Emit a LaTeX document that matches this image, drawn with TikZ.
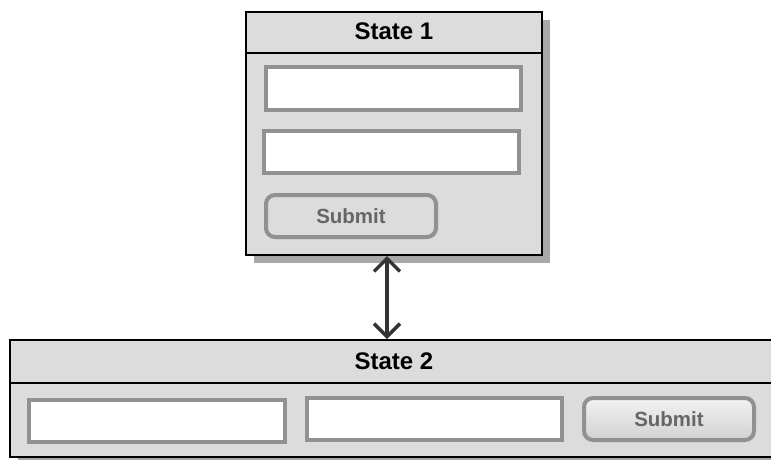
\documentclass[tikz,border=0pt]{standalone}
\usepackage{fontspec}
\setmainfont{Liberation Sans}
\usetikzlibrary{arrows.meta,shadows}
\definecolor{panelgray}{HTML}{DCDCDC}
\definecolor{fieldedge}{HTML}{919191}
\definecolor{shadowgray}{HTML}{A8A8A8}
\definecolor{btntext}{HTML}{666666}
\definecolor{linkgray}{HTML}{333333}
\tikzset{
  panel/.style={draw=black, line width=2pt, fill=panelgray,
    general shadow={fill=shadowgray, shadow xshift=8pt, shadow yshift=-8pt}},
  divider/.style={draw=black, line width=2pt},
  headtext/.style={font=\fontsize{24}{28}\selectfont\bfseries, text=black},
  field/.style={draw=fieldedge, line width=4pt, fill=white, inner sep=0pt},
  button/.style={draw=fieldedge, line width=4pt, fill=panelgray, rounded corners=9pt,
    inner sep=0pt, font=\fontsize{20.5}{24}\selectfont\bfseries, text=btntext},
  shinybutton/.style={button, top color=white!95!black, bottom color=white!82!black},
  link/.style={draw=linkgray, line width=3.5pt,
    {Straight Barb[length=13pt,width=26pt,line width=3.5pt]}-{Straight Barb[length=13pt,width=26pt,line width=3.5pt]}}
}
\begin{document}
\begin{tikzpicture}[x=1pt,y=-1pt]
\useasboundingbox (0,0) rectangle (771,459);
\clip (0,0) rectangle (771,459);

% first state: form with two fields and a button
\node[panel, minimum width=296pt, minimum height=243pt, inner sep=0pt] (s1) at (394,133.5) {};
\coordinate (s1divL) at (246,53);
\coordinate (s1divR) at (542,53);
\draw[divider] (s1divL) -- (s1divR);
\node[headtext] (s1title) at (394,31) {State 1};
\node[field, minimum width=255pt, minimum height=43pt] (s1f1) at (393.5,88.5) {};
\node[field, minimum width=255pt, minimum height=42pt] (s1f2) at (391.5,152) {};
\node[button, minimum width=170pt, minimum height=42pt] (s1btn) at (351,216) {Submit};

% second state: the same form laid out in one row
\node[panel, minimum width=768pt, minimum height=117pt, inner sep=0pt] (s2) at (394,398.5) {};
\coordinate (s2divL) at (10,383);
\coordinate (s2divR) at (778,383);
\draw[divider] (s2divL) -- (s2divR);
\node[headtext] (s2title) at (394,361.5) {State 2};
\node[field, minimum width=256pt, minimum height=42pt] (s2f1) at (157,421) {};
\node[field, minimum width=255pt, minimum height=42pt] (s2f2) at (434.5,419) {};
\node[shinybutton, minimum width=170pt, minimum height=42pt] (s2btn) at (669,419) {Submit};

% transition between the two states
\coordinate (linktop) at (s1.south -| 387,0);
\coordinate (linkbot) at (s2.north -| 387,0);
\draw[link] (linktop) -- (linkbot);
\end{tikzpicture}
\end{document}
